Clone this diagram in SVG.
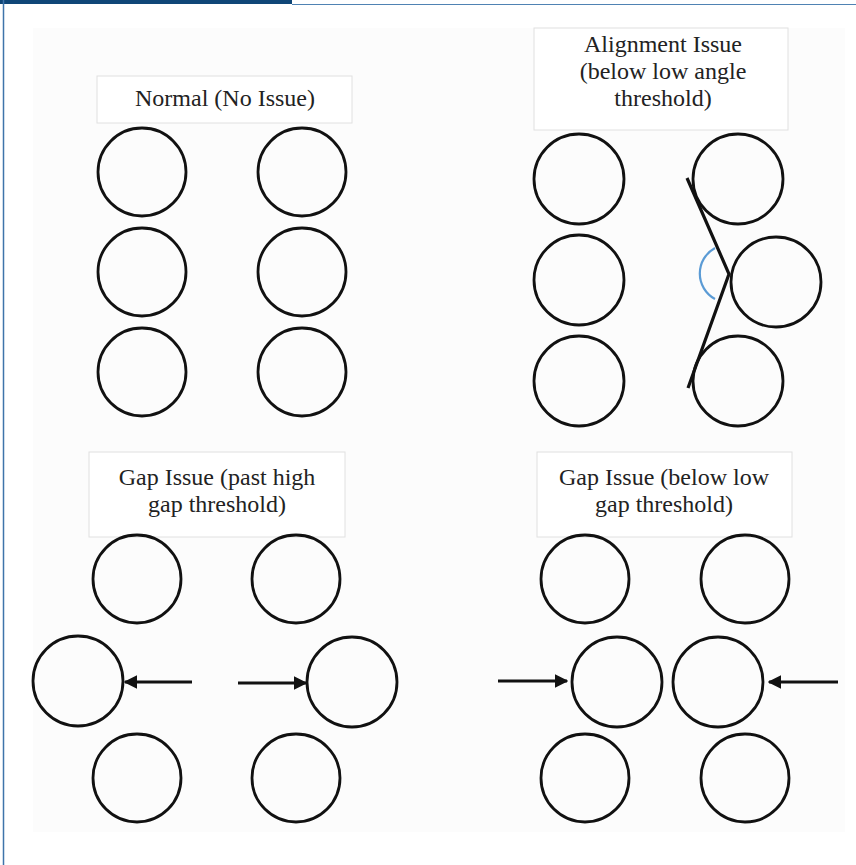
<svg xmlns="http://www.w3.org/2000/svg" width="856" height="865" viewBox="0 0 856 865">
<style>
.c{fill:none;stroke:#111;stroke-width:2.8}
.lb{fill:#fff;stroke:#e0e0e0;stroke-width:1}
.t{font-family:"Liberation Serif","Times New Roman",serif;font-size:24px;fill:#222;text-anchor:middle}
.ar{stroke:#111;stroke-width:3;fill:none}
</style>
<defs>
<marker id="ah" viewBox="0 0 10 10" refX="9" refY="5" markerWidth="4.5" markerHeight="4.5" orient="auto" markerUnits="strokeWidth">
<path d="M0,0 L10,5 L0,10 Z" fill="#111"/>
</marker>
</defs>
<rect width="856" height="865" fill="#fff"/>
<rect x="33" y="28" width="812" height="804" fill="#fcfcfc"/>
<rect x="0" y="0" width="292" height="4" fill="#0f4677"/>
<line x1="292" y1="4.5" x2="856" y2="4.5" stroke="#4f82b3" stroke-width="1.2"/>
<line x1="3.5" y1="0" x2="3.5" y2="865" stroke="#3f74aa" stroke-width="1.5"/>

<g id="label-normal"><rect class="lb" x="97" y="76" width="255" height="47"/><text class="t" x="225" y="106">Normal (No Issue)</text></g>
<g id="label-align"><rect class="lb" x="534" y="28" width="254" height="102"/><text class="t" x="663" y="52">Alignment Issue</text><text class="t" x="663" y="79">(below low angle</text><text class="t" x="663" y="106">threshold)</text></g>
<g id="label-gap-high"><rect class="lb" x="89" y="452" width="256" height="85"/><text class="t" x="217" y="485">Gap Issue (past high</text><text class="t" x="217" y="512">gap threshold)</text></g>
<g id="label-gap-low"><rect class="lb" x="537" y="452" width="255" height="85"/><text class="t" x="664" y="485">Gap Issue (below low</text><text class="t" x="664" y="512">gap threshold)</text></g>

<g id="n1-a"><circle class="c" cx="142" cy="172" r="44"/></g>
<g id="n1-b"><circle class="c" cx="302" cy="172" r="44"/></g>
<g id="n1-c"><circle class="c" cx="142" cy="272" r="44"/></g>
<g id="n1-d"><circle class="c" cx="302" cy="272" r="44"/></g>
<g id="n1-e"><circle class="c" cx="142" cy="372" r="44"/></g>
<g id="n1-f"><circle class="c" cx="302" cy="372" r="44"/></g>

<g id="n2-a"><circle class="c" cx="579" cy="179" r="45"/></g>
<g id="n2-b"><circle class="c" cx="738" cy="179" r="45"/></g>
<g id="n2-c"><circle class="c" cx="579" cy="280" r="45"/></g>
<g id="n2-d"><circle class="c" cx="776" cy="282" r="45"/></g>
<g id="n2-e"><circle class="c" cx="579" cy="381" r="45"/></g>
<g id="n2-f"><circle class="c" cx="738" cy="381" r="45"/></g>

<g id="n3-a"><circle class="c" cx="137" cy="579" r="44"/></g>
<g id="n3-b"><circle class="c" cx="296" cy="579" r="44"/></g>
<g id="n3-c"><circle class="c" cx="78" cy="681" r="45"/></g>
<g id="n3-d"><circle class="c" cx="352" cy="682" r="45"/></g>
<g id="n3-e"><circle class="c" cx="137" cy="778" r="44"/></g>
<g id="n3-f"><circle class="c" cx="296" cy="778" r="44"/></g>

<g id="n4-a"><circle class="c" cx="585" cy="579" r="44"/></g>
<g id="n4-b"><circle class="c" cx="745" cy="579" r="44"/></g>
<g id="n4-c"><circle class="c" cx="617" cy="682" r="45"/></g>
<g id="n4-d"><circle class="c" cx="718" cy="682" r="45"/></g>
<g id="n4-e"><circle class="c" cx="585" cy="778" r="44"/></g>
<g id="n4-f"><circle class="c" cx="745" cy="778" r="44"/></g>

<g id="connectors">
<polyline points="687,178 729,274 688,388" fill="none" stroke="#111" stroke-width="3.2"/>
<path d="M715,248 A29,29 0 0 0 715,299" fill="none" stroke="#5b9bd5" stroke-width="2.2"/>
<line class="ar" x1="192" y1="682" x2="125" y2="682" marker-end="url(#ah)"/>
<line class="ar" x1="238" y1="683" x2="306" y2="683" marker-end="url(#ah)"/>
<line class="ar" x1="498" y1="681" x2="567" y2="681" marker-end="url(#ah)"/>
<line class="ar" x1="838" y1="682" x2="769" y2="682" marker-end="url(#ah)"/>
</g>
</svg>
